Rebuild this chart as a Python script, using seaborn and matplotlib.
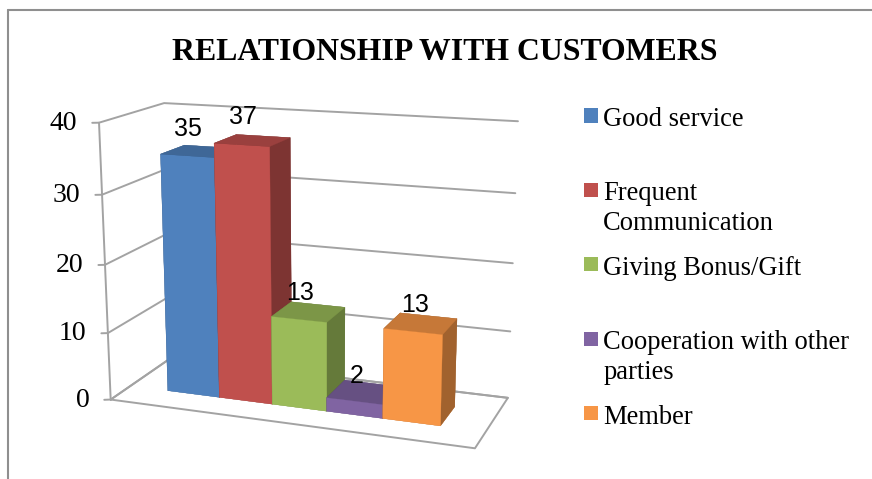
import numpy as np
import matplotlib
matplotlib.use("Agg")
import matplotlib.pyplot as plt
from matplotlib.legend_handler import HandlerPatch
from matplotlib.lines import Line2D
from matplotlib.patches import Rectangle
import seaborn as sns

categories = ["Good service", "Frequent\nCommunication", "Giving Bonus/Gift",
              "Cooperation with other\nparties", "Member"]
values = [35, 37, 13, 2, 13]
value_ticks = [0, 10, 20, 30, 40]
bar_colors = ["#4F81BD", "#C0504D", "#9BBB59", "#8064A2", "#F79646"]

sns.set_theme(style="white")
plt.rcParams["font.family"] = ["Liberation Serif", "DejaVu Serif"]
palette = sns.color_palette(bar_colors)

W, H = 872, 479
fig = plt.figure(figsize=(W / 100, H / 100), dpi=100)
ax = fig.add_axes([60.73 / W, (H - 512.3) / H, 483.5 / W, 483.5 / H], projection="3d")

x_lo, x_hi = -1.2417, 5.2646
ax.set_xlim(x_lo, x_hi, view_margin=0)
ax.set_ylim(0, 1, view_margin=0)
ax.set_zlim(0, 40, view_margin=0)
ax.view_init(14.7592, -69.7001, 0.1613)
ax.set_proj_type("persp", focal_length=float(np.exp(-0.6475)))
ax.set_box_aspect((1, 0.3749, 0.749))
ax.set_xticks([])
ax.set_yticks([])
ax.set_zticks([])
ax.set_axis_off()
ax.computed_zorder = False
ax.patch.set_alpha(0)


def label_at(x, depth, z, text, **kwargs):
    """Place flat text at the projected location of a 3D data point."""
    q = ax.get_proj() @ np.array([x, depth, z, 1.0])
    return ax.text2D(q[0] / q[3], q[1] / q[3], text, transform=ax.transData,
                     color="black", zorder=12, **kwargs)


# Floor, side wall and back wall gridlines
frame_style = dict(color="#a3a3a3", lw=1.4, zorder=0, solid_capstyle="round")
ax.plot([x_lo, x_hi, x_hi, x_lo, x_lo], [0, 0, 1, 1, 0], [0, 0, 0, 0, 0], **frame_style)
ax.plot([x_lo, x_lo], [0, 0], [0, 40], **frame_style)
for tick in value_ticks:
    ax.plot([x_lo - 0.1, x_lo, x_lo, x_hi], [-0.02, 0, 1, 1], [tick] * 4, **frame_style)
    label_at(x_lo - 0.33, -0.066, tick, str(tick), ha="right", va="center", fontsize=20)

# One solid block per category, painted from left to right
depth_front, depth_back = 0.307, 0.6942
for i, (value, color) in enumerate(zip(values, palette)):
    front = tuple(color)
    top = tuple(c * 0.8 for c in color)
    side = tuple(c * 0.65 for c in color)
    faces = [top, top, front, side, side, side]
    ax.bar3d(i - 0.5, depth_front, 0, 1, depth_back - depth_front, value, color=faces,
             shade=False, edgecolor=faces, linewidth=0.2, zorder=2 + i)
    label_at(i + 0.03, depth_front, value + 3.8, str(value), ha="center", va="center",
             family=["Liberation Sans"], fontsize=18)

fig.text(444.5 / W, 1 - 52 / H, "RELATIONSHIP WITH CUSTOMERS", ha="center", va="center",
         fontsize=22.9, fontweight="bold", color="black")

# Outer chart border: only the top and left edges fall inside the canvas
border = dict(color="#8f8f8f", lw=1.5, transform=fig.transFigure)
fig.add_artist(Line2D([8 / W, 8 / W], [0, 1 - 10 / H], **border))
fig.add_artist(Line2D([8 / W, 1], [1 - 10 / H, 1 - 10 / H], **border))


def swatch(legend, orig_handle, xdescent, ydescent, width, height, fontsize):
    """Square marker lined up with the first line of a two-line legend entry."""
    return Rectangle((-xdescent, -ydescent + 14.3), width, width)


handles = [Rectangle((0, 0), 1, 1, facecolor=c, edgecolor="none") for c in palette]
labels = [c if "\n" in c else c + "\n" for c in categories]
legend = fig.legend(handles, labels, loc="upper left", bbox_to_anchor=(584 / W, 1 - 107 / H),
                    frameon=False, fontsize=19.1, borderpad=0, borderaxespad=0,
                    handlelength=0.53, handleheight=0.53, handletextpad=0.19,
                    labelspacing=0.735, labelcolor="black",
                    handler_map={Rectangle: HandlerPatch(patch_func=swatch)})
for text in legend.get_texts():
    text.set_linespacing(1.26)

fig.savefig("out.png", dpi=100)
